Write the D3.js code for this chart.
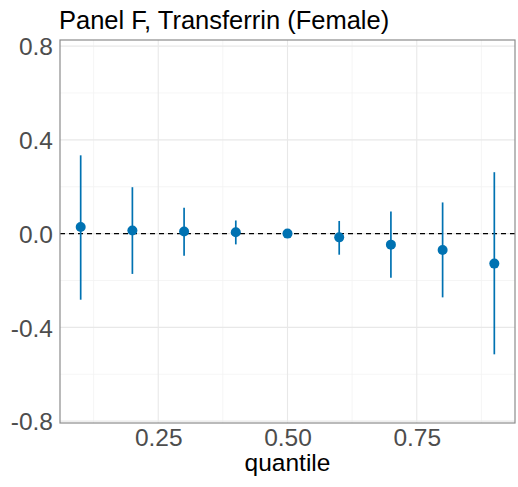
<!DOCTYPE html>
<html>
<head>
<meta charset="utf-8">
<script src="https://cdn.jsdelivr.net/npm/d3@7"></script>
<style>
	body { margin: 0; background: #fff; }
	text { font-family: "Liberation Sans", Arial, sans-serif; }
</style>
</head>
<body>
<svg id="chart"></svg>
<script>
var quantiles = [0.1, 0.2, 0.3, 0.4, 0.5, 0.6, 0.7, 0.8, 0.9];
var estimates = [0.028, 0.013, 0.009, 0.006, 0.0, -0.016, -0.047, -0.070, -0.128];
var lower     = [-0.282, -0.172, -0.094, -0.046, 0.0, -0.090, -0.188, -0.272, -0.515];
var upper     = [0.334, 0.198, 0.110, 0.056, 0.0, 0.054, 0.094, 0.133, 0.262];
var xTicks = [0.25, 0.50, 0.75];
var xMinor = [0.125, 0.375, 0.625, 0.875];
var yTicks = [-0.8, -0.4, 0.0, 0.4, 0.8];
var yMinor = [-0.6, -0.2, 0.2, 0.6];
var title = "Panel F, Transferrin (Female)";
var xTitle = "quantile";

var width = 518, height = 487;
var panel = { left: 60, right: 515, top: 40, bottom: 423 };
var blue = "#0072B2";
var fontSize = "24.5px";

var svg = d3.select("#chart")
	.attr("width", width)
	.attr("height", height);

var x = d3.scaleLinear()
	.domain([0.06, 0.94])
	.range([panel.left, panel.right]);

var y = d3.scaleLinear()
	.domain([-0.808, 0.826])
	.range([panel.bottom, panel.top]);

// gridlines
var grid = svg.append("g");
grid.selectAll(".yminor").data(yMinor).enter().append("line")
	.attr("x1", panel.left).attr("x2", panel.right)
	.attr("y1", function(d){ return y(d) }).attr("y2", function(d){ return y(d) })
	.attr("stroke", "#f2f2f2").attr("stroke-width", 0.8);
grid.selectAll(".xminor").data(xMinor).enter().append("line")
	.attr("y1", panel.top).attr("y2", panel.bottom)
	.attr("x1", function(d){ return x(d) }).attr("x2", function(d){ return x(d) })
	.attr("stroke", "#f2f2f2").attr("stroke-width", 0.8);
grid.selectAll(".ymajor").data(yTicks).enter().append("line")
	.attr("x1", panel.left).attr("x2", panel.right)
	.attr("y1", function(d){ return y(d) }).attr("y2", function(d){ return y(d) })
	.attr("stroke", "#e8e8e8").attr("stroke-width", 1.1);
grid.selectAll(".xmajor").data(xTicks).enter().append("line")
	.attr("y1", panel.top).attr("y2", panel.bottom)
	.attr("x1", function(d){ return x(d) }).attr("x2", function(d){ return x(d) })
	.attr("stroke", "#e8e8e8").attr("stroke-width", 1.1);

// reference line at zero
svg.append("line")
	.attr("x1", panel.left).attr("x2", panel.right)
	.attr("y1", y(0)).attr("y2", y(0))
	.attr("stroke", "#000").attr("stroke-width", 1.2)
	.attr("stroke-dasharray", "5,4");

// error bars
svg.selectAll(".bar").data(quantiles).enter().append("line")
	.attr("x1", function(d){ return x(d) }).attr("x2", function(d){ return x(d) })
	.attr("y1", function(d, i){ return y(lower[i]) })
	.attr("y2", function(d, i){ return y(upper[i]) })
	.attr("stroke", blue).attr("stroke-width", 1.7);

// points
svg.selectAll(".pt").data(quantiles).enter().append("circle")
	.attr("cx", function(d){ return x(d) })
	.attr("cy", function(d, i){ return y(estimates[i]) })
	.attr("r", 5)
	.attr("fill", blue);

// panel border
svg.append("rect")
	.attr("x", panel.left).attr("y", panel.top)
	.attr("width", panel.right - panel.left).attr("height", panel.bottom - panel.top)
	.attr("fill", "none").attr("stroke", "#8c8c8c").attr("stroke-width", 1.2);

// axes
var fmtY = function(d){ return d3.format(".1f")(d).replace("\u2212", "-") };
var yAxis = svg.append("g")
	.attr("transform", "translate(" + panel.left + ",0)")
	.call(d3.axisLeft(y).tickValues(yTicks).tickSize(0).tickPadding(7).tickFormat(fmtY));
var xAxis = svg.append("g")
	.attr("transform", "translate(0," + panel.bottom + ")")
	.call(d3.axisBottom(x).tickValues(xTicks).tickSize(0).tickPadding(6).tickFormat(d3.format(".2f")));
[yAxis, xAxis].forEach(function(a){
	a.select(".domain").remove();
	a.selectAll("text")
		.attr("fill", "#4d4d4d")
		.style("font-size", fontSize)
		.style("font-family", "'Liberation Sans', Arial, sans-serif");
});
yAxis.selectAll("text").attr("dy", "0.36em");

svg.append("text")
	.attr("x", panel.left - 1)
	.attr("y", 29)
	.style("font-size", "25.5px")
	.attr("fill", "#000")
	.text(title);

svg.append("text")
	.attr("x", (panel.left + panel.right) / 2)
	.attr("y", 471)
	.attr("text-anchor", "middle")
	.style("font-size", fontSize)
	.attr("fill", "#000")
	.text(xTitle);
</script>
</body>
</html>
